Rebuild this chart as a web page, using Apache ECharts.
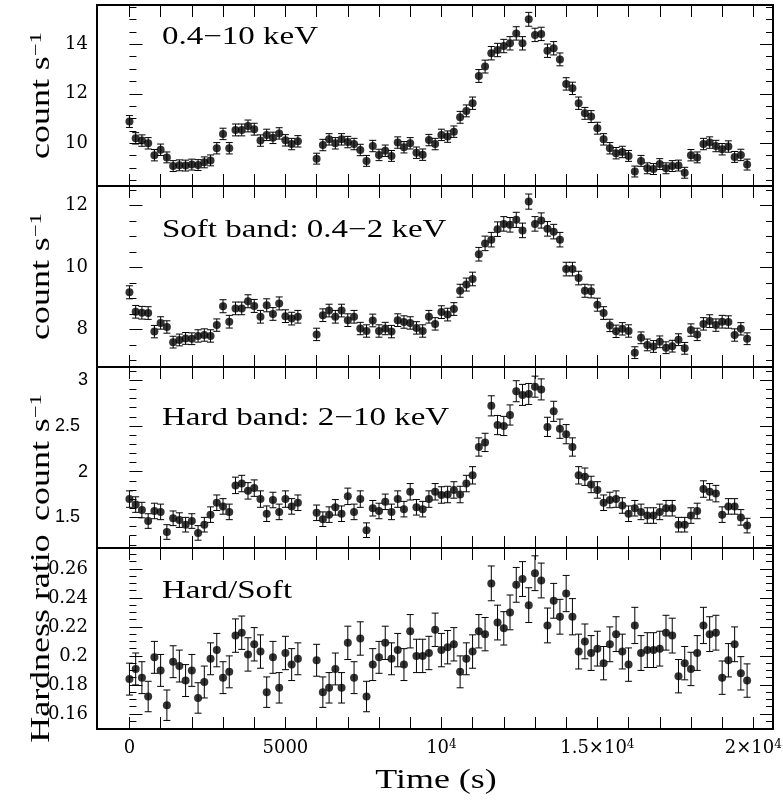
<!DOCTYPE html>
<html>
<head>
<meta charset="utf-8">
<script src="https://cdn.jsdelivr.net/npm/echarts@6/dist/echarts.min.js"></script>
<style>
  html, body { margin: 0; padding: 0; background: #ffffff; }
  #chart { width: 783px; height: 806px; }
</style>
</head>
<body>
<div id="chart"></div>
<script>
// Light curve in three energy bands plus the hardness ratio, 200 s bins.
const times = [
  0, 200, 400, 600, 800, 1000, 1200, 1400, 1600, 1800, 2000, 2200, 2400, 2600,
  2800, 3000, 3200, 3400, 3600, 3800, 4000, 4200, 4400, 4600, 4800, 5000, 5200, 5400,
  6000, 6200, 6400, 6600, 6800, 7000, 7200, 7400, 7600, 7800, 8000, 8200, 8400, 8600,
  8800, 9000, 9200, 9400, 9600, 9800,
  10000, 10200, 10400, 10600, 10800, 11000, 11200, 11400, 11600, 11800, 12000, 12200,
  12400, 12600, 12800, 13000, 13200, 13400, 13600, 13800,
  14000, 14200, 14400, 14600, 14800, 15000, 15200, 15400, 15600, 15800, 16000, 16200,
  16400, 16600, 16800, 17000, 17200, 17400, 17600, 17800,
  18000, 18200, 18400, 18600, 18800, 19000, 19200, 19400, 19600, 19800
];

// 0.4-10 keV count rate
const totalRate = [
  10.88, 10.20, 10.11, 10.00, 9.52, 9.74, 9.43, 9.08, 9.11, 9.10, 9.14, 9.12, 9.23, 9.31,
  9.80, 10.38, 9.80, 10.54, 10.54, 10.70, 10.57, 10.11, 10.34, 10.22, 10.40, 10.12, 9.97, 10.08,
  9.38, 9.93, 10.16, 10.00, 10.16, 10.05, 9.97, 9.73, 9.29, 9.89, 9.53, 9.70, 9.49, 10.03,
  9.84, 10.00, 9.62, 9.54, 10.13, 9.97,
  10.34, 10.27, 10.47, 11.05, 11.31, 11.62, 12.72, 13.10, 13.64, 13.77, 13.93, 14.04,
  14.44, 14.04, 15.01, 14.38, 14.42, 13.74, 13.84, 13.39,
  12.40, 12.22, 11.62, 11.21, 11.08, 10.61, 10.16, 9.80, 9.60, 9.65, 9.49, 8.86,
  9.29, 8.99, 8.96, 9.16, 8.99, 9.08, 9.10, 8.81,
  9.52, 9.43, 9.97, 10.03, 9.89, 9.76, 9.87, 9.45, 9.53, 9.14
];
const totalErr = [
  0.24, 0.23, 0.23, 0.23, 0.23, 0.23, 0.22, 0.22, 0.22, 0.22, 0.22, 0.22, 0.22, 0.22,
  0.23, 0.23, 0.23, 0.24, 0.24, 0.24, 0.24, 0.23, 0.23, 0.23, 0.23, 0.23, 0.23, 0.23,
  0.22, 0.23, 0.23, 0.23, 0.23, 0.23, 0.23, 0.23, 0.22, 0.23, 0.23, 0.23, 0.22, 0.23,
  0.23, 0.23, 0.23, 0.23, 0.23, 0.23,
  0.23, 0.23, 0.23, 0.24, 0.24, 0.25, 0.26, 0.26, 0.27, 0.27, 0.27, 0.27,
  0.27, 0.27, 0.28, 0.27, 0.27, 0.27, 0.27, 0.26,
  0.25, 0.25, 0.25, 0.24, 0.24, 0.24, 0.23, 0.23, 0.23, 0.23, 0.22, 0.22,
  0.22, 0.22, 0.22, 0.22, 0.22, 0.22, 0.22, 0.22,
  0.23, 0.22, 0.23, 0.23, 0.23, 0.23, 0.23, 0.22, 0.23, 0.22
];

// 0.4-2 keV count rate
const softRate = [
  9.20, 8.57, 8.54, 8.53, 7.93, 8.21, 8.08, 7.59, 7.66, 7.71, 7.70, 7.79, 7.82, 7.79,
  8.14, 8.75, 8.25, 8.68, 8.68, 8.91, 8.76, 8.41, 8.78, 8.50, 8.84, 8.43, 8.35, 8.41,
  7.84, 8.46, 8.61, 8.41, 8.61, 8.30, 8.41, 8.03, 7.95, 8.29, 7.95, 8.03, 7.93, 8.30,
  8.24, 8.21, 8.05, 7.95, 8.41, 8.18,
  8.56, 8.48, 8.66, 9.25, 9.45, 9.63, 10.43, 10.78, 10.90, 11.24, 11.41, 11.38,
  11.54, 11.20, 12.13, 11.41, 11.52, 11.25, 11.16, 10.90,
  9.95, 9.95, 9.66, 9.25, 9.23, 8.80, 8.53, 8.13, 7.94, 8.02, 7.95, 7.25,
  7.73, 7.50, 7.45, 7.60, 7.41, 7.46, 7.67, 7.39,
  7.98, 7.84, 8.18, 8.27, 8.14, 8.25, 8.24, 7.82, 8.02, 7.70
];
const softErr = [
  0.21, 0.205, 0.205, 0.205, 0.20, 0.20, 0.20, 0.19, 0.19, 0.19, 0.19, 0.20, 0.20, 0.20,
  0.20, 0.21, 0.205, 0.205, 0.205, 0.21, 0.21, 0.205, 0.21, 0.205, 0.21, 0.205, 0.205, 0.205,
  0.20, 0.205, 0.205, 0.205, 0.205, 0.205, 0.205, 0.20, 0.20, 0.205, 0.20, 0.20, 0.20, 0.205,
  0.20, 0.20, 0.20, 0.20, 0.205, 0.20,
  0.205, 0.205, 0.205, 0.21, 0.21, 0.22, 0.22, 0.235, 0.235, 0.235, 0.235, 0.235,
  0.245, 0.235, 0.245, 0.235, 0.245, 0.235, 0.235, 0.235,
  0.22, 0.22, 0.22, 0.21, 0.21, 0.21, 0.205, 0.20, 0.20, 0.20, 0.20, 0.19,
  0.19, 0.19, 0.19, 0.19, 0.19, 0.19, 0.19, 0.19,
  0.20, 0.20, 0.20, 0.205, 0.20, 0.205, 0.20, 0.20, 0.20, 0.19
];

// 2-10 keV count rate
const hardRate = [
  1.70, 1.64, 1.58, 1.46, 1.57, 1.56, 1.34, 1.49, 1.47, 1.42, 1.46, 1.33, 1.42, 1.53,
  1.66, 1.62, 1.56, 1.85, 1.87, 1.79, 1.82, 1.70, 1.54, 1.69, 1.56, 1.70, 1.62, 1.66,
  1.55, 1.48, 1.53, 1.61, 1.54, 1.73, 1.56, 1.70, 1.36, 1.60, 1.57, 1.67, 1.56, 1.70,
  1.59, 1.78, 1.61, 1.59, 1.70, 1.78,
  1.745, 1.75, 1.80, 1.75, 1.87, 1.96, 2.27, 2.32, 2.72, 2.51, 2.50, 2.62,
  2.88, 2.84, 2.85, 2.93, 2.90, 2.49, 2.66, 2.47,
  2.41, 2.27, 1.96, 1.945, 1.86, 1.80, 1.66, 1.69, 1.70, 1.63, 1.54, 1.60,
  1.56, 1.52, 1.52, 1.56, 1.60, 1.60, 1.42, 1.42,
  1.52, 1.57, 1.81, 1.78, 1.76, 1.53, 1.62, 1.62, 1.50, 1.41
];
const hardErr = [
  0.09, 0.085, 0.085, 0.08, 0.085, 0.085, 0.08, 0.08, 0.08, 0.08, 0.08, 0.08, 0.08, 0.085,
  0.085, 0.085, 0.085, 0.09, 0.09, 0.09, 0.09, 0.09, 0.085, 0.085, 0.085, 0.09, 0.085, 0.085,
  0.085, 0.08, 0.085, 0.085, 0.085, 0.09, 0.085, 0.09, 0.08, 0.085, 0.085, 0.085, 0.085, 0.09,
  0.085, 0.09, 0.085, 0.085, 0.09, 0.09,
  0.09, 0.09, 0.09, 0.09, 0.09, 0.095, 0.10, 0.10, 0.11, 0.105, 0.105, 0.11,
  0.115, 0.115, 0.115, 0.115, 0.115, 0.105, 0.11, 0.105,
  0.105, 0.10, 0.095, 0.095, 0.09, 0.09, 0.085, 0.085, 0.09, 0.085, 0.085, 0.085,
  0.085, 0.085, 0.085, 0.085, 0.085, 0.085, 0.08, 0.08,
  0.085, 0.085, 0.09, 0.09, 0.09, 0.085, 0.085, 0.085, 0.085, 0.08
];

// hard / soft ratio
const hardness = [
  0.184, 0.191, 0.185, 0.172, 0.199, 0.190, 0.166, 0.196, 0.193, 0.183, 0.190, 0.171, 0.182, 0.198,
  0.204, 0.185, 0.189, 0.214, 0.216, 0.201, 0.208, 0.203, 0.175, 0.199, 0.178, 0.202, 0.194, 0.198,
  0.197, 0.175, 0.178, 0.191, 0.178, 0.209, 0.185, 0.212, 0.172, 0.194, 0.199, 0.209, 0.198, 0.204,
  0.194, 0.217, 0.200, 0.200, 0.202, 0.218,
  0.204, 0.206, 0.208, 0.189, 0.198, 0.203, 0.217, 0.215, 0.250, 0.223, 0.219, 0.230,
  0.249, 0.253, 0.235, 0.257, 0.252, 0.221, 0.238, 0.227,
  0.243, 0.227, 0.203, 0.210, 0.202, 0.205, 0.195, 0.208, 0.215, 0.203, 0.194, 0.221,
  0.202, 0.204, 0.204, 0.205, 0.216, 0.214, 0.186, 0.195,
  0.191, 0.202, 0.221, 0.215, 0.216, 0.185, 0.197, 0.208, 0.188, 0.183
];
const hardnessErr = [
  0.011, 0.011, 0.011, 0.0105, 0.011, 0.011, 0.0105, 0.011, 0.011, 0.011, 0.011, 0.0105, 0.011, 0.011,
  0.0115, 0.011, 0.011, 0.0115, 0.0115, 0.0115, 0.0115, 0.0115, 0.0105, 0.011, 0.0105, 0.0115, 0.011, 0.011,
  0.011, 0.0105, 0.0105, 0.011, 0.0105, 0.0115, 0.011, 0.0115, 0.0105, 0.011, 0.011, 0.0115, 0.011, 0.0115,
  0.011, 0.0115, 0.0115, 0.0115, 0.0115, 0.0115,
  0.0115, 0.0115, 0.0115, 0.011, 0.011, 0.0115, 0.0115, 0.0115, 0.012, 0.012, 0.0115, 0.012,
  0.012, 0.012, 0.012, 0.012, 0.012, 0.012, 0.012, 0.012,
  0.0125, 0.0125, 0.012, 0.012, 0.012, 0.012, 0.0115, 0.012, 0.012, 0.012, 0.0115, 0.0125,
  0.012, 0.012, 0.012, 0.012, 0.012, 0.012, 0.0115, 0.0115,
  0.0115, 0.012, 0.0125, 0.012, 0.012, 0.0115, 0.0115, 0.012, 0.0115, 0.0115
];

// Shared time axis
const xTickValues = [0, 1000, 2000, 3000, 4000, 5000, 6000, 7000, 8000, 9000, 10000,
  11000, 12000, 13000, 14000, 15000, 16000, 17000, 18000, 19000, 20000];
const xLabelValues = [0, 5000, 10000, 15000, 20000];
const xLabelTexts = ['{b|0}', '{b|5000}', '{b|10}{s|4}', '{b|1.5×10}{s|4}', '{b|2×10}{s|4}'];

// Per-panel vertical axes
const yRanges = [[8.275, 15.588], [6.787, 12.634], [1.165, 3.145], [0.1496, 0.2744]];
const yMajorTicks = [
  [10, 12, 14],
  [8, 10, 12],
  [1.5, 2, 2.5, 3],
  [0.16, 0.18, 0.2, 0.22, 0.24, 0.26]
];
const yMajorLabels = [
  ['10', '12', '14'],
  ['8', '10', '12'],
  ['1.5', '2', '2.5', '3'],
  ['0.16', '0.18', '0.2', '0.22', '0.24', '0.26']
];
const yMinorTicks = [
  [8.5, 9, 9.5, 10.5, 11, 11.5, 12.5, 13, 13.5, 14.5, 15, 15.5],
  [7, 7.5, 8.5, 9, 9.5, 10.5, 11, 11.5, 12.5],
  [1.2, 1.3, 1.4, 1.6, 1.7, 1.8, 1.9, 2.1, 2.2, 2.3, 2.4, 2.6, 2.7, 2.8, 2.9, 3.1],
  [0.15, 0.155, 0.165, 0.17, 0.175, 0.185, 0.19, 0.195, 0.205, 0.21, 0.215,
   0.225, 0.23, 0.235, 0.245, 0.25, 0.255, 0.265, 0.27]
];

const panelLabels = ['0.4−10 keV', 'Soft band: 0.4−2 keV', 'Hard band: 2−10 keV', 'Hard/Soft'];
const yTitles = ['{m|count s}{s|−1}', '{m|count s}{s|−1}', '{m|count s}{s|−1}', '{m|Hardness ratio}'];
const xTitle = 'Time (s)';

const panelRates = [
  [totalRate, totalErr],
  [softRate, softErr],
  [hardRate, hardErr],
  [hardness, hardnessErr]
];

// layout
const GRID_LEFT = 97, GRID_WIDTH = 676, PANEL_H = 181;
const panelTops = [5, 186, 367, 548];
const X_MIN = -1040, X_MAX = 20630;
const SERIF = 'Liberation Serif';
const TICK_SERIF = 'DejaVu Serif';
const SANS = 'Liberation Sans';
const INK = '#000000';

const grids = [], xAxes = [], yAxes = [], series = [], graphics = [];

function pickLabel(values, labels, v) {
  for (let i = 0; i < values.length; i++) {
    if (Math.abs(values[i] - v) < 1e-9) return labels[i];
  }
  return '';
}

function errorBarRender(params, api) {
  const x = api.value(0), y = api.value(1), e = api.value(2);
  const hi = api.coord([x, y + e]);
  const lo = api.coord([x, y - e]);
  const cap = 3.5;
  const st = { stroke: INK, lineWidth: 1 };
  return {
    type: 'group',
    children: [
      { type: 'line', shape: { x1: hi[0], y1: hi[1], x2: lo[0], y2: lo[1] }, style: st },
      { type: 'line', shape: { x1: hi[0] - cap, y1: hi[1], x2: hi[0] + cap, y2: hi[1] }, style: st },
      { type: 'line', shape: { x1: lo[0] - cap, y1: lo[1], x2: lo[0] + cap, y2: lo[1] }, style: st }
    ]
  };
}

panelTops.forEach((top, k) => {
  const last = k === panelTops.length - 1;
  grids.push({
    left: GRID_LEFT, width: GRID_WIDTH, top: top, height: PANEL_H,
    show: true, borderColor: INK, borderWidth: 2, backgroundColor: 'transparent',
    containLabel: false, outerBoundsMode: 'none'
  });

  ['bottom', 'top'].forEach(pos => {
    xAxes.push({
      type: 'value', gridIndex: k, position: pos, min: X_MIN, max: X_MAX,
      axisLine: { show: false }, splitLine: { show: false },
      axisTick: { show: true, inside: true, length: 12, customValues: xTickValues,
                  lineStyle: { color: INK, width: 1 } },
      axisLabel: {
        show: last && pos === 'bottom',
        customValues: xLabelValues,
        margin: 10,
        color: INK,
        fontFamily: TICK_SERIF,
        fontSize: 18,
        formatter: v => pickLabel(xLabelValues, xLabelTexts, v),
        rich: {
          b: { fontFamily: TICK_SERIF, fontSize: 18, color: INK },
          s: { fontFamily: TICK_SERIF, fontSize: 12, color: INK, verticalAlign: 'top' }
        }
      }
    });
  });

  const sans = k === 2;
  const axisDefs = [
    ['left', yMajorTicks[k], 13, true],
    ['left', yMinorTicks[k], 7, false],
    ['right', yMajorTicks[k], 13, false],
    ['right', yMinorTicks[k], 7, false]
  ];
  axisDefs.forEach(([pos, ticks, len, labelled]) => {
    yAxes.push({
      type: 'value', gridIndex: k, position: pos,
      min: yRanges[k][0], max: yRanges[k][1],
      axisLine: { show: false }, splitLine: { show: false },
      axisTick: { show: true, inside: true, length: len, customValues: ticks,
                  lineStyle: { color: INK, width: 1 } },
      axisLabel: {
        show: labelled,
        customValues: yMajorTicks[k],
        margin: 9,
        color: INK,
        fontFamily: sans ? SANS : TICK_SERIF,
        fontSize: 18,
        formatter: v => {
          const t = pickLabel(yMajorTicks[k], yMajorLabels[k], v);
          if (sans && t.indexOf('.') >= 0) return '{w|' + t + '}';
          return '{n|' + t + '}';
        },
        rich: {
          n: { fontFamily: sans ? SANS : TICK_SERIF, fontSize: 18, color: INK },
          w: { fontFamily: SANS, fontSize: 18, color: INK, padding: [0, 8, 0, 0] }
        }
      }
    });
  });

  const [vals, errs] = panelRates[k];
  const pts = times.map((t, i) => [t, vals[i], errs[i]]);
  series.push({
    type: 'custom', xAxisIndex: 2 * k, yAxisIndex: 4 * k,
    renderItem: errorBarRender, encode: { x: 0, y: 1 }, data: pts, z: 2, silent: true
  });
  series.push({
    type: 'scatter', xAxisIndex: 2 * k, yAxisIndex: 4 * k,
    data: pts.map(p => [p[0], p[1]]), symbol: 'circle', symbolSize: 8,
    itemStyle: { color: INK }, z: 3, silent: true
  });

  // panel caption
  const captionY = [37, 230, 418, 591][k];
  graphics.push({
    type: 'text', x: 162, y: captionY, scaleX: 1.32, silent: true,
    style: { text: panelLabels[k], fontFamily: SERIF, fontSize: 25, fill: INK,
             align: 'left', verticalAlign: 'middle' }
  });

  // vertical title
  graphics.push({
    type: 'text', x: 42, y: top + PANEL_H / 2, rotation: Math.PI / 2, scaleX: 1.33, silent: true,
    style: {
      text: yTitles[k], align: 'center', verticalAlign: 'middle', fill: INK,
      rich: {
        m: { fontFamily: SERIF, fontSize: 27, fill: INK },
        s: { fontFamily: SERIF, fontSize: 17, fill: INK, verticalAlign: 'top' }
      }
    }
  });
});

graphics.push({
  type: 'text', x: 436, y: 781, scaleX: 1.33, silent: true,
  style: { text: xTitle, fontFamily: SERIF, fontSize: 27, fill: INK, align: 'center', verticalAlign: 'middle' }
});

const chart = echarts.init(document.getElementById('chart'), null, { renderer: 'canvas' });
chart.setOption({
  backgroundColor: '#ffffff',
  animation: false,
  grid: grids,
  xAxis: xAxes,
  yAxis: yAxes,
  series: series,
  graphic: graphics
});
</script>
</body>
</html>
